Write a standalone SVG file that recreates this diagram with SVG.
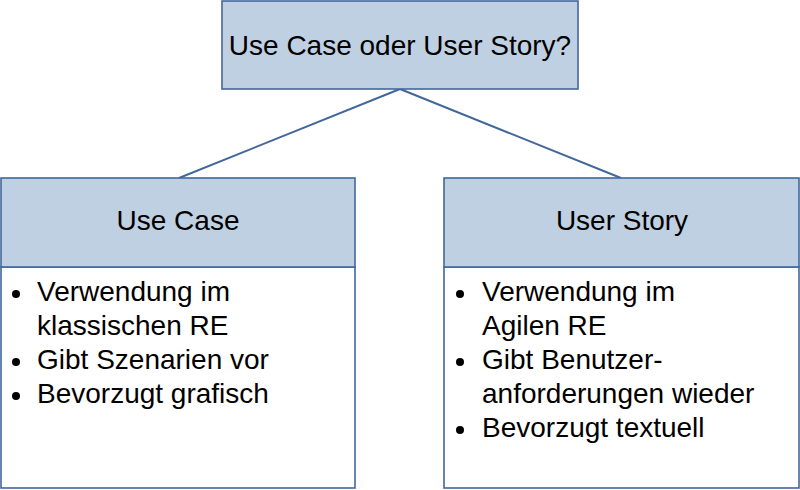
<svg xmlns="http://www.w3.org/2000/svg" width="800" height="490" viewBox="0 0 800 490">
<style>
.hdr{fill:#c0d0e3;stroke:#41679b;stroke-width:1.6}
.body{fill:#ffffff;stroke:#41679b;stroke-width:1.6}
.t{font-family:"Liberation Sans",Arial,sans-serif;font-size:28px;fill:#000}
.c{text-anchor:middle}
.b{fill:#000}
.conn{stroke:#41679b;stroke-width:2;fill:none}
</style>
<rect width="800" height="490" fill="#fff"/>
<g id="connectors">
<line class="conn" x1="400" y1="89" x2="179" y2="178"/>
<line class="conn" x1="400" y1="89" x2="621" y2="178"/>
</g>
<g id="root">
<rect class="hdr" x="222" y="1" width="356" height="88"/>
<text class="t c" x="400" y="55">Use Case oder User Story?</text>
</g>
<g id="usecase">
<rect class="body" x="1" y="267" width="354" height="221"/>
<rect class="hdr" x="1" y="178" width="354" height="89"/>
<text class="t c" x="178" y="230">Use Case</text>
<circle class="b" cx="16" cy="294" r="4"/>
<text class="t" x="37" y="301">Verwendung im</text>
<text class="t" x="37" y="335">klassischen RE</text>
<circle class="b" cx="16" cy="362" r="4"/>
<text class="t" x="37" y="369">Gibt Szenarien vor</text>
<circle class="b" cx="16" cy="396" r="4"/>
<text class="t" x="37" y="403">Bevorzugt grafisch</text>
</g>
<g id="userstory">
<rect class="body" x="444" y="267" width="355" height="221"/>
<rect class="hdr" x="444" y="178" width="355" height="89"/>
<text class="t c" x="622" y="230">User Story</text>
<circle class="b" cx="460" cy="294" r="4"/>
<text class="t" x="482" y="301">Verwendung im</text>
<text class="t" x="482" y="335">Agilen RE</text>
<circle class="b" cx="460" cy="362" r="4"/>
<text class="t" x="482" y="369">Gibt Benutzer-</text>
<text class="t" x="482" y="403">anforderungen wieder</text>
<circle class="b" cx="460" cy="430" r="4"/>
<text class="t" x="482" y="437">Bevorzugt textuell</text>
</g>
</svg>
